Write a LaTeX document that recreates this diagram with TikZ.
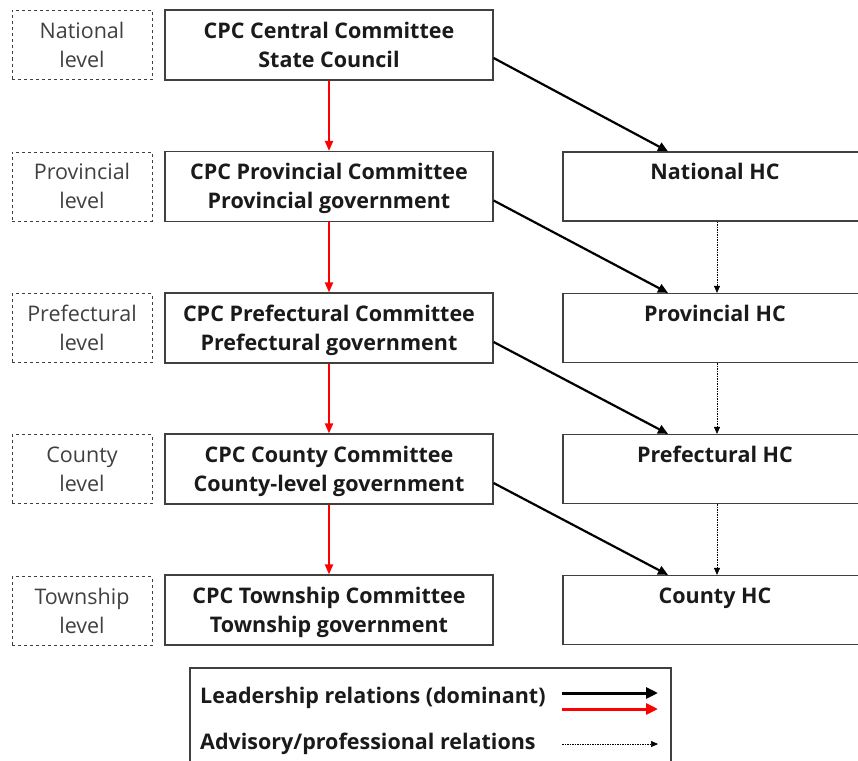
\documentclass[tikz,border=0pt]{standalone}
\usepackage{fontspec}
\setmainfont{Open Sans}
\usetikzlibrary{arrows.meta}
\definecolor{edge}{HTML}{404040}
\definecolor{labelgray}{HTML}{404040}
\definecolor{txt}{HTML}{1A1A1A}
% taller first line so that two-line texts sit a little lower in their boxes
\newcommand{\firstline}{\rule{0pt}{24.5pt}}
\begin{document}
\begin{tikzpicture}[x=1pt,y=-1pt,
  basefont/.style={font=\fontsize{21.5}{29}\selectfont},
  levelbox/.style={draw=edge,dashed,line width=0.8pt,minimum width=140pt,minimum height=69pt,
    align=center,inner sep=0pt,text=labelgray,basefont},
  govbox/.style={draw=edge,line width=1.2pt,minimum width=328pt,minimum height=70pt,
    align=center,inner sep=0pt,text=txt,font=\fontsize{21.5}{29}\selectfont\bfseries},
  hcbox/.style={draw=edge,line width=1.2pt,minimum width=304pt,minimum height=69pt,
    align=center,inner sep=0pt,text=txt,font=\fontsize{21.5}{29}\selectfont\bfseries},
  lead/.style={line width=2.2pt,-{Triangle[length=10pt,width=9pt]}},
  redlead/.style={draw=red,line width=2pt,-{Triangle[length=10pt,width=8pt]}},
  advice/.style={line width=0.6pt,dash pattern=on 1.5pt off 1pt,-{Triangle[length=7pt,width=6pt]}},
  legtext/.style={anchor=west,inner sep=0pt,text=txt,font=\fontsize{21.5}{29}\selectfont\bfseries}
]
\useasboundingbox (0,0) rectangle (858,760);
\clip (0,0) rectangle (858,760);

% administrative levels
\node[levelbox] (l1) at (82,45)    {\firstline National\\\strut level};
\node[levelbox] (l2) at (82,186.5) {\firstline Provincial\\\strut level};
\node[levelbox] (l3) at (82,328)   {\firstline Prefectural\\\strut level};
\node[levelbox] (l4) at (82,469)   {\firstline County\\\strut level};
\node[levelbox] (l5) at (82,611)   {\firstline Township\\\strut level};

% party committees and governments
\node[govbox] (g1) at (329,45)    {\firstline CPC Central Committee\\\strut State Council};
\node[govbox] (g2) at (329,186.5) {\firstline CPC Provincial Committee\\\strut Provincial government};
\node[govbox] (g3) at (329,328)   {\firstline CPC Prefectural Committee\\\strut Prefectural government};
\node[govbox] (g4) at (329,469)   {\firstline CPC County Committee\\\strut County-level government};
\node[govbox] (g5) at (329,610)   {\firstline CPC Township Committee\\\strut Township government};

% health commissions
\node[hcbox] (h1) at (715,186.5) {\firstline National HC\\\strut};
\node[hcbox] (h2) at (715,328)   {\firstline Provincial HC\\\strut};
\node[hcbox] (h3) at (715,469)   {\firstline Prefectural HC\\\strut};
\node[hcbox] (h4) at (715,610)   {\firstline County HC\\\strut};

% leadership within the government chain
\draw[redlead] (g1) -- (g2);
\draw[redlead] (g2) -- (g3);
\draw[redlead] (g3) -- (g4);
\draw[redlead] (g4) -- (g5);

% leadership over the health commissions
\draw[lead] ([yshift=-13pt]g1.east) -- ([xshift=-47pt]h1.north);
\draw[lead] ([yshift=-14pt]g2.east) -- ([xshift=-47pt]h2.north);
\draw[lead] ([yshift=-14pt]g3.east) -- ([xshift=-47pt]h3.north);
\draw[lead] ([yshift=-14pt]g4.east) -- ([xshift=-47pt]h4.north);

% professional guidance between commissions
\draw[advice] ([xshift=2pt]h1.south) -- ([xshift=2pt]h2.north);
\draw[advice] ([xshift=2pt]h2.south) -- ([xshift=2pt]h3.north);
\draw[advice] ([xshift=2pt]h3.south) -- ([xshift=2pt]h4.north);

% legend
\node[draw=edge,line width=1.2pt,minimum width=481pt,minimum height=120pt,inner sep=0pt] (leg) at (430.5,728) {};
\node[legtext] (t1) at (200,698) {Leadership relations (dominant)};
\node[legtext] (t2) at (200,744) {Advisory/professional relations};
\coordinate (a1s) at (562,693); \coordinate (a1e) at (658,693);
\coordinate (a2s) at (562,709); \coordinate (a2e) at (658,709);
\coordinate (a3s) at (562,744); \coordinate (a3e) at (658,744);
\draw[line width=3pt,-{Triangle[length=12pt,width=11pt]}] (a1s) -- (a1e);
\draw[red,line width=3pt,-{Triangle[length=12pt,width=11pt]}] (a2s) -- (a2e);
\draw[advice] (a3s) -- (a3e);
\end{tikzpicture}
\end{document}
